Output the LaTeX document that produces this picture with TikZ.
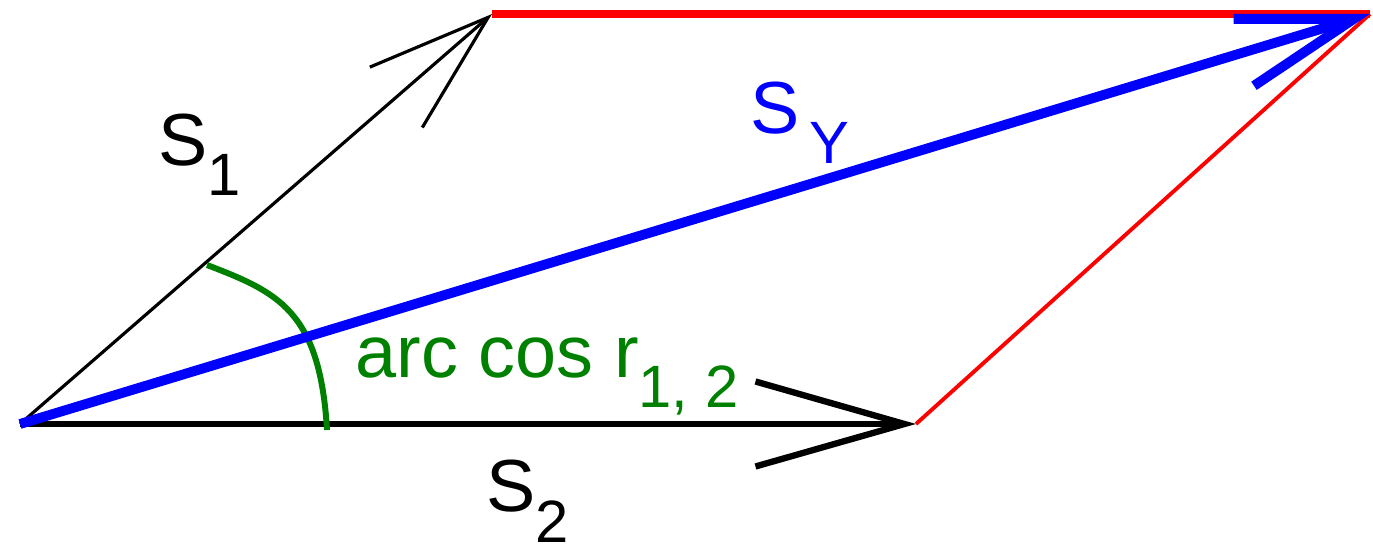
\documentclass[tikz,border=0pt]{standalone}
\usepackage{fontspec}
\setmainfont{Liberation Sans}
\usepackage{xcolor}
\usepackage{tikz}
\usetikzlibrary{arrows.meta}
\definecolor{arcgreen}{RGB}{0,128,0}
\newcommand{\sublbl}[2][0.4em]{\raisebox{-#1}{\fontsize{17}{17}\selectfont #2}}
\tikzset{
  vecone/.style={black, line width=0.9pt,
                 -{Straight Barb[length=12.2mm, width=8mm]}},
  vectwo/.style={black, line width=1.8pt,
                 -{Straight Barb[length=14.9mm, width=8.5mm]}},
  vecsum/.style={blue, line width=2.8pt,
                 -{Straight Barb[length=11.5mm, width=7mm]}},
  sidetop/.style={red, line width=2pt},
  sideright/.style={red, line width=1.1pt},
  anglearc/.style={arcgreen, line width=1.7pt},
  lbl/.style={inner sep=0pt, anchor=base west, font=\fontsize{21}{25}\selectfont},
}
\begin{document}
\begin{tikzpicture}
    \useasboundingbox (0,0) rectangle (13.73,5.57);
    % corners of the parallelogram
    \coordinate (O) at (0.2,1.33);
    \coordinate (A) at (4.92,5.43);
    \coordinate (B) at (9.16,1.33);
    \coordinate (C) at (13.70,5.43);
    \coordinate (arcS) at (2.07,2.92);
    \coordinate (arcE) at (3.27,1.27);
    \draw[sidetop] (A) -- (C);
    \draw[sideright] (B) -- (C);
    \draw[vecone] (O) -- (A);
    \draw[vectwo] (O) -- (B);
    \draw[anglearc] (arcS) .. controls (2.77,2.65) and (3.2,2.47) .. (arcE);
    \draw[vecsum] (O) -- (C);
    \node[lbl] (s1) at (1.58,3.91) {S\sublbl{1}};
    \node[lbl] (s2) at (4.86,0.45) {S\sublbl[0.42em]{2}};
    \node[lbl, blue] (sy) at (7.50,4.23) {S\hspace{0.13em}\sublbl{Y}};
    \node[lbl, arcgreen] (ang) at (3.55,1.79) {arc cos r\sublbl{1, 2}};
\end{tikzpicture}
\end{document}
